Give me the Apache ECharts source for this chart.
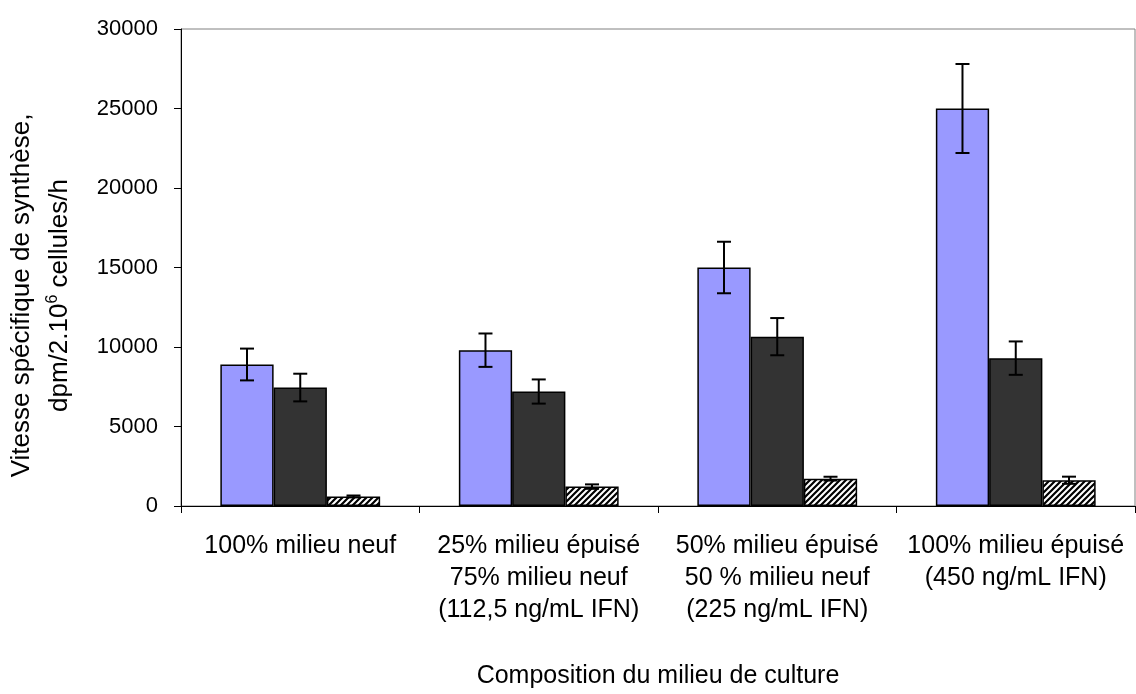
<!DOCTYPE html>
<html>
<head>
<meta charset="utf-8">
<script src="https://cdn.jsdelivr.net/npm/echarts@6/dist/echarts.min.js"></script>
<style>
  html, body { margin: 0; padding: 0; background: #ffffff; }
  #chart { width: 1136px; height: 694px; }
</style>
</head>
<body>
<div id="chart"></div>
<script>
// ---- Data ----
const categories = [
  '100% milieu neuf',
  '25% milieu épuisé\n75% milieu neuf\n(112,5 ng/mL IFN)',
  '50% milieu épuisé\n50 % milieu neuf\n(225 ng/mL IFN)',
  '100% milieu épuisé\n(450 ng/mL IFN)'
];
const seriesNames = ['Série 1', 'Série 2', 'Série 3'];
const valuesBlue = [8900, 9800, 15000, 25000];
const errorsBlue = [1000, 1050, 1620, 2800];
const valuesDark = [7450, 7200, 10650, 9300];
const errorsDark = [870, 760, 1170, 1050];
const valuesHatch = [600, 1220, 1720, 1620];
const errorsHatch = [60, 140, 120, 225];
const yTicks = [0, 5000, 10000, 15000, 20000, 25000, 30000];

// hatch pattern
function makeHatch() {
  const s = 6;
  const c = document.createElement('canvas');
  c.width = s; c.height = s;
  const ctx = c.getContext('2d');
  ctx.fillStyle = '#ffffff';
  ctx.fillRect(0, 0, s, s);
  ctx.strokeStyle = '#000000';
  ctx.lineWidth = 2.2;
  ctx.beginPath();
  ctx.moveTo(-1, s + 1); ctx.lineTo(s + 1, -1);
  ctx.moveTo(-1, 1); ctx.lineTo(1, -1);
  ctx.moveTo(s - 1, s + 1); ctx.lineTo(s + 1, s - 1);
  ctx.stroke();
  return c;
}
const hatch = { image: makeHatch(), repeat: 'repeat' };

const BAR_GAP_RATIO = 0.33;
const N_SERIES = 3;

function errorSeries(values, errors, idx) {
  const data = values.map((v, i) => [i, v - errors[i], v + errors[i]]);
  return {
    type: 'custom',
    name: seriesNames[idx] + ' err',
    z: 10,
    silent: true,
    data: data,
    encode: { x: 0, y: [1, 2] },
    renderItem: function (params, api) {
      const band = api.size([1, 0])[0];
      const barW = band * (1 - BAR_GAP_RATIO) / N_SERIES;
      const offset = (idx - (N_SERIES - 1) / 2) * barW;
      const lo = api.coord([api.value(0), api.value(1)]);
      const hi = api.coord([api.value(0), api.value(2)]);
      const x = lo[0] + offset;
      const cap = 7;
      const style = { stroke: '#000', lineWidth: 2, fill: null };
      return {
        type: 'group',
        children: [
          { type: 'line', shape: { x1: x, y1: hi[1], x2: x, y2: lo[1] }, style: style },
          { type: 'line', shape: { x1: x - cap, y1: hi[1], x2: x + cap, y2: hi[1] }, style: style },
          { type: 'line', shape: { x1: x - cap, y1: lo[1], x2: x + cap, y2: lo[1] }, style: style }
        ]
      };
    }
  };
}

const font = '"Liberation Sans", Arial, sans-serif';

const option = {
  animation: false,
  backgroundColor: '#ffffff',
  grid: {
    left: 181, right: 1, top: 29, bottom: 182,
    show: true, borderColor: '#808080', borderWidth: 1, backgroundColor: 'transparent'
  },
  xAxis: {
    type: 'category',
    data: categories,
    boundaryGap: true,
    axisLine: { show: true, lineStyle: { color: '#000', width: 1 } },
    axisTick: { show: true, length: 7, inside: false, alignWithLabel: false, lineStyle: { color: '#000' } },
    axisLabel: {
      interval: 0, fontFamily: font, fontSize: 25, lineHeight: 32, color: '#000', margin: 24
    },
    name: 'Composition du milieu de culture',
    nameLocation: 'middle',
    nameGap: 158,
    nameTextStyle: { fontFamily: font, fontSize: 25, color: '#000' }
  },
  yAxis: {
    type: 'value',
    min: 0, max: 30000, interval: 5000,
    splitLine: { show: false },
    axisLine: { show: true, lineStyle: { color: '#000', width: 1 } },
    axisTick: { show: true, length: 7, lineStyle: { color: '#000' } },
    axisLabel: {
      fontFamily: font, fontSize: 22, color: '#000', margin: 23,
      formatter: function (v) { return yTicks.indexOf(v) >= 0 ? String(v) : ''; }
    },
    name: '{a|Vitesse spécifique de synthèse,}\n{a|dpm/2.10}{sup|6}{a| cellules/h}',
    nameLocation: 'middle',
    nameRotate: 90,
    nameGap: 102,
    nameTextStyle: {
      fontFamily: font, fontSize: 26, color: '#000', align: 'center',
      padding: [0, 56, 0, 0],
      rich: {
        a: { fontFamily: font, fontSize: 26, color: '#000', lineHeight: 38 },
        sup: { fontFamily: font, fontSize: 16, color: '#000', lineHeight: 38, padding: [0, 0, 14, 0] }
      }
    }
  },
  series: [
    {
      type: 'bar', name: seriesNames[0], data: valuesBlue,
      barGap: '0%', barCategoryGap: (BAR_GAP_RATIO * 100) + '%',
      itemStyle: { color: '#9999FF', borderColor: '#000', borderWidth: 1.5 }
    },
    {
      type: 'bar', name: seriesNames[1], data: valuesDark,
      barGap: '0%', barCategoryGap: (BAR_GAP_RATIO * 100) + '%',
      itemStyle: { color: '#333333', borderColor: '#000', borderWidth: 1.5 }
    },
    {
      type: 'bar', name: seriesNames[2], data: valuesHatch,
      barGap: '0%', barCategoryGap: (BAR_GAP_RATIO * 100) + '%',
      itemStyle: { color: hatch, borderColor: '#000', borderWidth: 1.5 }
    },
    errorSeries(valuesBlue, errorsBlue, 0),
    errorSeries(valuesDark, errorsDark, 1),
    errorSeries(valuesHatch, errorsHatch, 2)
  ]
};

const chart = echarts.init(document.getElementById('chart'), null, { renderer: 'canvas' });
chart.setOption(option);
</script>
</body>
</html>
